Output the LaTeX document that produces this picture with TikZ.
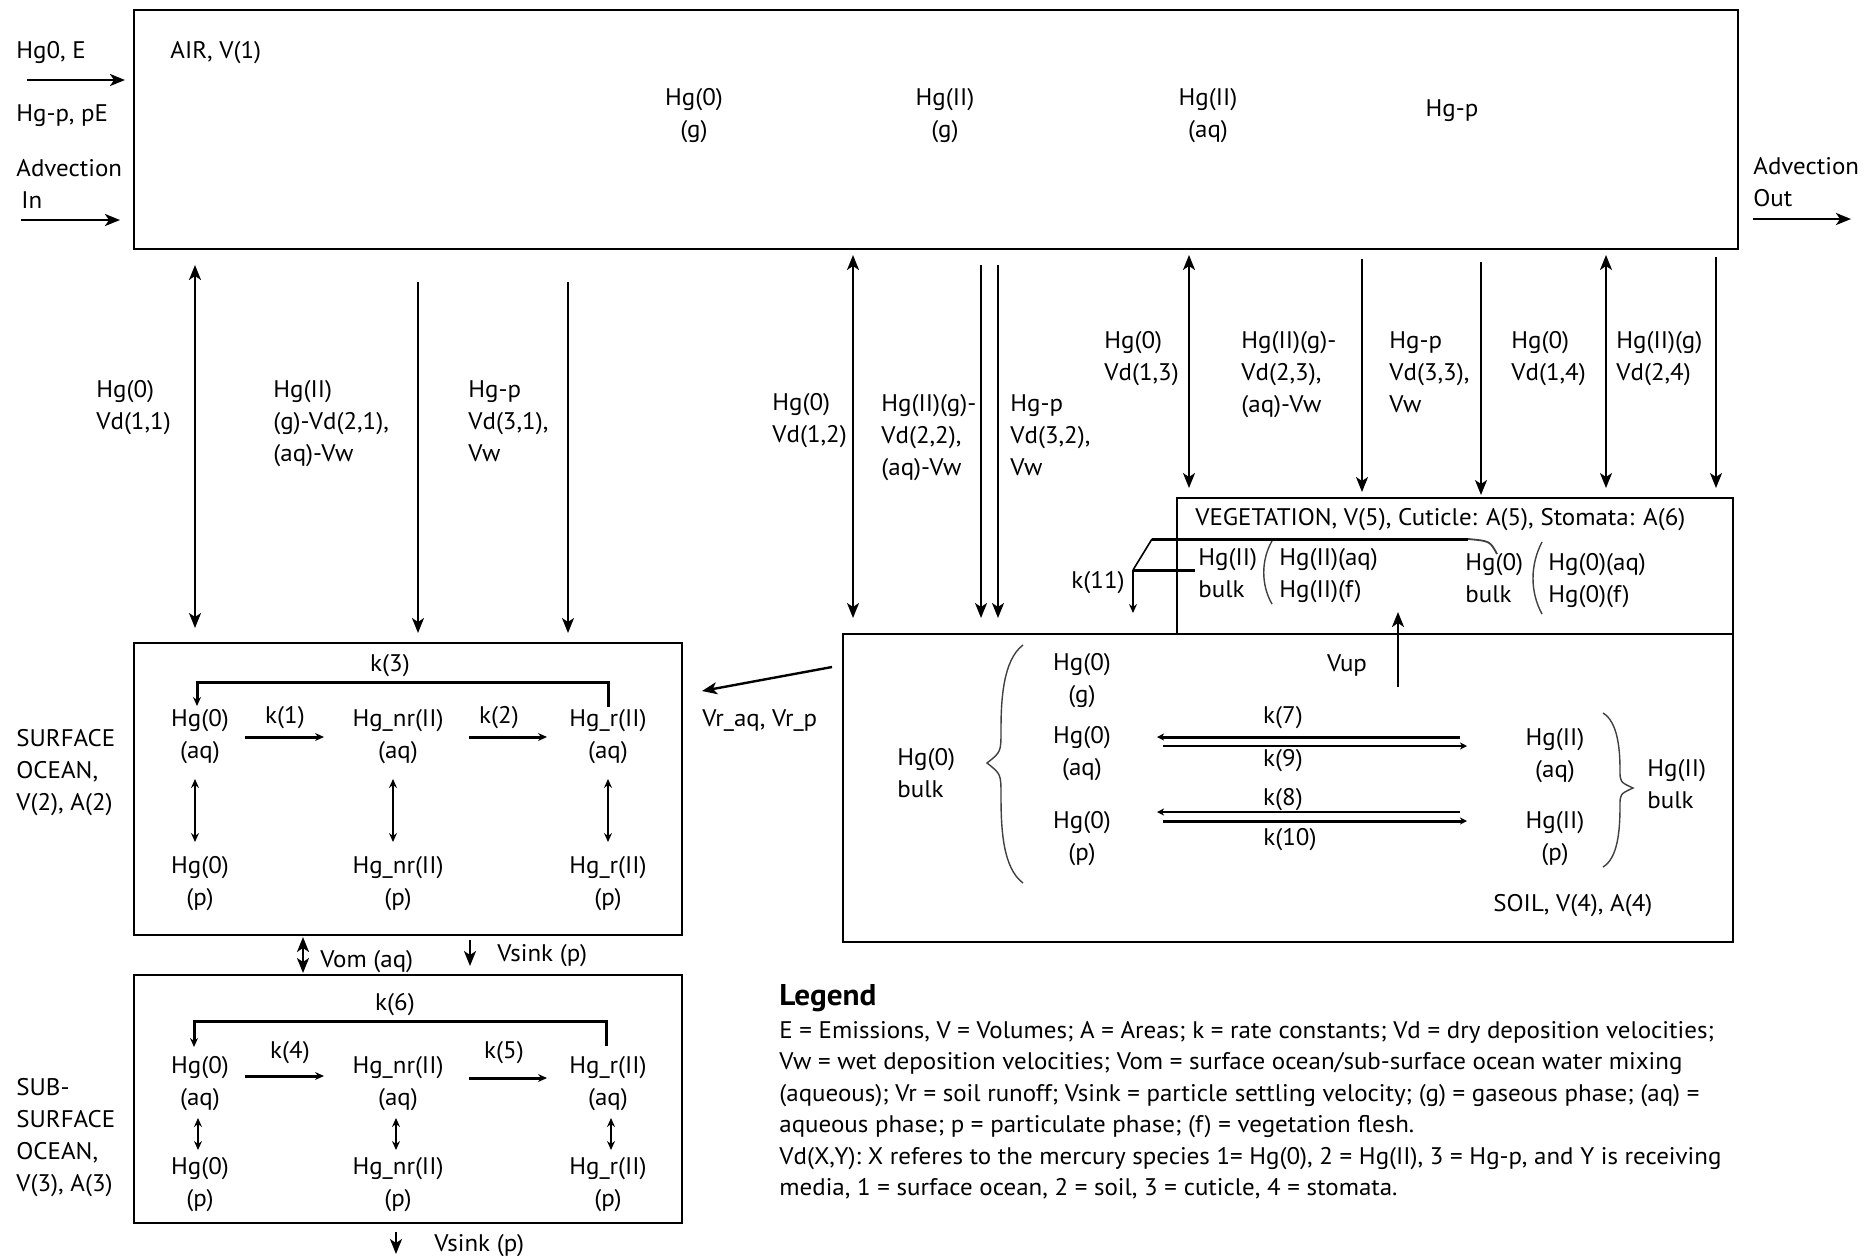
\documentclass[tikz,border=0pt]{standalone}
\usepackage{fontspec}
\setmainfont{PT Sans}[FakeStretch=1.04]
\usetikzlibrary{arrows.meta,fit}
\newcommand\lf{\fontsize{12}{16}\selectfont}
\tikzset{
  box/.style={draw, line width=1.4pt, inner sep=0pt},
  lbl/.style={inner sep=0pt, font=\lf, align=left, anchor=north west, execute at begin node=\strut},
  ctr/.style={inner sep=0pt, font=\lf, align=center, anchor=north, execute at begin node=\strut},
  rlbl/.style={inner sep=0pt, font=\lf, align=right, anchor=north east, execute at begin node=\strut},
  bighead/.tip={Stealth[length=7.5pt,width=6pt,inset=2pt]},
  smallhead/.tip={Stealth[length=4.5pt,width=4pt,inset=1.5pt]},
  flux/.style={line width=1pt, -bighead},
  dflux/.style={line width=1pt, bighead-bighead},
  karrow/.style={line width=1.5pt, -smallhead},
  dsmall/.style={line width=0.8pt, smallhead-smallhead},
  sarrowthick/.style={line width=1.5pt, -{Stealth[length=3.5pt,width=3.5pt,inset=1pt]}},
  sarrowthin/.style={line width=0.9pt, -{Stealth[length=3.5pt,width=3.5pt,inset=1pt]}},
  brace/.style={line width=0.7pt, draw=black!75},
}
\begin{document}
\begin{tikzpicture}[x=0.5pt,y=-0.5pt]
\useasboundingbox (0,0) rectangle (1875,1255);
\fill[white] (0,0) rectangle (1875,1255);

% ---------- boxes
\node[box, fit={(134,10) (1738,249)}] (air) {};
\node[box, fit={(1177,498) (1733,634)}] (veg) {};
\node[box, fit={(843,634) (1733,942)}] (soil) {};
\node[box, fit={(134,643) (682,935)}] (socean) {};
\node[box, fit={(134,975) (682,1223)}] (ssocean) {};

% ---------- left of air
\node[lbl] (thg0e) at (16,36) {Hg0, E};
\node[lbl] (thgpe) at (16,99) {Hg-p, pE};
\node[lbl] (tadvin) at (16,159) {Advection\\\hspace*{2.5pt}In};
\coordinate (e1s) at (27,80); \coordinate (e1e) at (125,80);
\draw[line width=1.2pt, -bighead] (e1s) -- (e1e);
\coordinate (ai1s) at (21,220); \coordinate (ai1e) at (120,220);
\draw[line width=1.2pt, -bighead] (ai1s) -- (ai1e);

% ---------- inside air
\node[lbl] (tair) at (170,36) {AIR, V(1)};
\node[ctr] (ag0) at (694,88) {Hg(0)\\(g)};
\node[ctr] (ag2) at (945,88) {Hg(II)\\(g)};
\node[ctr] (aq2) at (1208,88) {Hg(II)\\(aq)};
\node[ctr] (agp) at (1452,94) {Hg-p};

% ---------- right of air
\node[lbl] (tadvout) at (1753,157) {Advection\\Out};
\coordinate (ao1s) at (1753,219); \coordinate (ao1e) at (1851,219);
\draw[line width=1.2pt, -bighead] (ao1s) -- (ao1e);

% ---------- deposition arrows
\coordinate (f1t) at (195,265); \coordinate (f1b) at (195,628);
\draw[dflux] (f1t) -- (f1b);
\coordinate (f2t) at (418,282); \coordinate (f2b) at (418,633);
\draw[flux] (f2t) -- (f2b);
\coordinate (f3t) at (568,282); \coordinate (f3b) at (568,633);
\draw[flux] (f3t) -- (f3b);
\coordinate (f4t) at (853,255); \coordinate (f4b) at (853,618);
\draw[dflux] (f4t) -- (f4b);
\coordinate (f5t) at (981,265); \coordinate (f5b) at (981,618);
\draw[flux] (f5t) -- (f5b);
\coordinate (f6t) at (998,265); \coordinate (f6b) at (998,618);
\draw[flux] (f6t) -- (f6b);
\coordinate (f7t) at (1189,255); \coordinate (f7b) at (1189,488);
\draw[dflux] (f7t) -- (f7b);
\coordinate (f8t) at (1362,259); \coordinate (f8b) at (1362,492);
\draw[flux] (f8t) -- (f8b);
\coordinate (f9t) at (1481,262); \coordinate (f9b) at (1481,495);
\draw[flux] (f9t) -- (f9b);
\coordinate (f10t) at (1606,255); \coordinate (f10b) at (1606,488);
\draw[dflux] (f10t) -- (f10b);
\coordinate (f11t) at (1716,257); \coordinate (f11b) at (1716,488);
\draw[flux] (f11t) -- (f11b);

\node[lbl] (d11) at (96,380) {Hg(0)\\Vd(1,1)};
\node[lbl] (d21) at (273,380) {Hg(II)\\(g)-Vd(2,1),\\(aq)-Vw};
\node[lbl] (d31) at (468,380) {Hg-p\\Vd(3,1),\\Vw};
\node[lbl] (d12) at (772,393) {Hg(0)\\Vd(1,2)};
\node[lbl] (d22) at (881,394) {Hg(II)(g)-\\Vd(2,2),\\(aq)-Vw};
\node[lbl] (d32) at (1010,394) {Hg-p\\Vd(3,2),\\Vw};
\node[lbl] (d13) at (1104,331) {Hg(0)\\Vd(1,3)};
\node[lbl] (d23) at (1241,331) {Hg(II)(g)-\\Vd(2,3),\\(aq)-Vw};
\node[lbl] (d33) at (1389,331) {Hg-p\\Vd(3,3),\\Vw};
\node[lbl] (d14) at (1511,331) {Hg(0)\\Vd(1,4)};
\node[lbl] (d24) at (1616,331) {Hg(II)(g)\\Vd(2,4)};

% ---------- vegetation
\node[lbl] (tveg) at (1195,503) {VEGETATION, V(5), Cuticle: A(5), Stomata: A(6)};
\node[rlbl] (k11) at (1125,566) {k(11)};
\node[lbl] (vb2) at (1198,548) {Hg(II)\\bulk};
\node[lbl] (vs2) at (1279,548) {Hg(II)(aq)\\Hg(II)(f)};
\node[lbl] (vb0) at (1465,553) {Hg(0)\\bulk};
\node[lbl] (vs0) at (1548,553) {Hg(0)(aq)\\Hg(0)(f)};
\draw[brace] (1272,541) .. controls (1261,560) and (1261,585) .. (1272,604);
\draw[brace] (1542,542) .. controls (1530,565) and (1530,592) .. (1542,614);
\coordinate (k11j) at (1133,570);
\coordinate (k11a) at (1152,539);
\coordinate (k11b) at (1468,539);
\coordinate (k11c) at (1497,554);
\coordinate (k11d) at (1195,570);
\coordinate (k11e) at (1133,613);
\draw[brace, line width=0.9pt] (k11c) .. controls (1490,541) .. (k11b);
\draw[line width=1.5pt] (k11b) -- (k11a);
\draw[line width=0.8pt] (k11a) -- (k11j);
\draw[line width=1.5pt] (k11d) -- (k11j);
\draw[line width=1.2pt, -smallhead] (k11j) -- (k11e);

% ---------- soil
\coordinate (vups) at (1398,687); \coordinate (vupe) at (1398,612);
\draw[line width=1.2pt, -bighead] (vups) -- (vupe);
\node[ctr] (tvup) at (1347,649) {Vup};
\node[lbl] (sb0) at (897,748) {Hg(0)\\bulk};
\node[ctr] (sg0) at (1082,653) {Hg(0)\\(g)};
\node[ctr] (sa0) at (1082,726) {Hg(0)\\(aq)};
\node[ctr] (sp0) at (1082,811) {Hg(0)\\(p)};
\node[ctr] (sa2) at (1555,728) {Hg(II)\\(aq)};
\node[ctr] (sp2) at (1555,811) {Hg(II)\\(p)};
\node[lbl] (sb2) at (1647,759) {Hg(II)\\bulk};
\node[ctr] (k7) at (1283,701) {k(7)};
\node[ctr] (k9) at (1283,744) {k(9)};
\node[ctr] (k8) at (1283,783) {k(8)};
\node[ctr] (k10) at (1290,823) {k(10)};
\node[lbl] (tsoil) at (1493,889) {SOIL, V(4), A(4)};
\coordinate (p1a) at (1460,737); \coordinate (p1b) at (1157,737);
\draw[sarrowthick] (p1a) -- (p1b);
\coordinate (p2a) at (1163,746); \coordinate (p2b) at (1467,746);
\draw[sarrowthin] (p2a) -- (p2b);
\coordinate (p3a) at (1460,812); \coordinate (p3b) at (1157,812);
\draw[sarrowthin] (p3a) -- (p3b);
\coordinate (p4a) at (1163,821); \coordinate (p4b) at (1467,821);
\draw[sarrowthick] (p4a) -- (p4b);
\draw[brace] (1023,645) .. controls (1003,660) and (1001,700) .. (1001,730)
  .. controls (1001,752) .. (987,763) .. controls (1001,774) .. (1001,796)
  .. controls (1001,830) and (1003,868) .. (1023,883);
\draw[brace] (1603,713) .. controls (1618,722) and (1620,750) .. (1620,770)
  .. controls (1620,782) .. (1633,788) .. controls (1620,794) .. (1620,806)
  .. controls (1620,830) and (1618,858) .. (1603,867);

% ---------- runoff
\coordinate (ros) at (832,667); \coordinate (roe) at (702,691);
\draw[line width=1.2pt, -bighead] (ros) -- (roe);
\node[lbl] (tro) at (702,704) {Vr\_aq, Vr\_p};

% ---------- surface ocean
\node[lbl] (tso) at (16,729) {SURFACE\\OCEAN,\\V(2), A(2)};
\node[ctr] (k3) at (390,649) {k(3)};
\node[ctr] (so1) at (200,709) {Hg(0)\\(aq)};
\node[ctr] (so2) at (398,709) {Hg\_nr(II)\\(aq)};
\node[ctr] (so3) at (608,709) {Hg\_r(II)\\(aq)};
\node[ctr] (k1) at (285,701) {k(1)};
\node[ctr] (k2) at (499,701) {k(2)};
\node[ctr] (sp1) at (200,856) {Hg(0)\\(p)};
\node[ctr] (spp2) at (398,856) {Hg\_nr(II)\\(p)};
\node[ctr] (sp3) at (608,856) {Hg\_r(II)\\(p)};
\coordinate (k1s) at (245,737); \coordinate (k1e) at (324,737);
\draw[karrow] (k1s) -- (k1e);
\coordinate (k2s) at (469,737); \coordinate (k2e) at (547,737);
\draw[karrow] (k2s) -- (k2e);
\coordinate (k3a) at (608,707); \coordinate (k3b) at (608,682);
\coordinate (k3c) at (197,682); \coordinate (k3d) at (197,706);
\draw[karrow] (k3a) -- (k3b) -- (k3c) -- (k3d);
\foreach \x/\n in {195/a,393/b,608/c}{
  \coordinate (v\n t) at (\x,779); \coordinate (v\n b) at (\x,842);
  \draw[dsmall] (v\n t) -- (v\n b);
}

% ---------- between oceans
\coordinate (vomt) at (303,937); \coordinate (vomb) at (303,973);
\draw[line width=1pt, bighead-bighead] (vomt) -- (vomb);
\node[lbl] (tvom) at (320,945) {Vom (aq)};
\coordinate (vs1t) at (470,940); \coordinate (vs1b) at (470,966);
\draw[line width=1pt, -bighead] (vs1t) -- (vs1b);
\node[lbl] (tvs1) at (497,939) {Vsink (p)};

% ---------- sub-surface ocean
\node[lbl] (tsso) at (16,1078) {SUB-\\SURFACE\\OCEAN,\\V(3), A(3)};
\node[ctr] (k6) at (395,988) {k(6)};
\node[ctr] (ss1) at (200,1056) {Hg(0)\\(aq)};
\node[ctr] (ss2) at (398,1056) {Hg\_nr(II)\\(aq)};
\node[ctr] (ss3) at (608,1056) {Hg\_r(II)\\(aq)};
\node[ctr] (k4) at (290,1036) {k(4)};
\node[ctr] (k5) at (504,1036) {k(5)};
\node[ctr] (sq1) at (200,1157) {Hg(0)\\(p)};
\node[ctr] (sq2) at (398,1157) {Hg\_nr(II)\\(p)};
\node[ctr] (sq3) at (608,1157) {Hg\_r(II)\\(p)};
\coordinate (k4s) at (245,1076); \coordinate (k4e) at (324,1076);
\draw[karrow] (k4s) -- (k4e);
\coordinate (k5s) at (469,1078); \coordinate (k5e) at (547,1078);
\draw[karrow] (k5s) -- (k5e);
\coordinate (k6a) at (606,1046); \coordinate (k6b) at (606,1021);
\coordinate (k6c) at (194,1021); \coordinate (k6d) at (194,1047);
\draw[karrow] (k6a) -- (k6b) -- (k6c) -- (k6d);
\foreach \x/\n in {198/a,396/b,611/c}{
  \coordinate (w\n t) at (\x,1118); \coordinate (w\n b) at (\x,1150);
  \draw[dsmall] (w\n t) -- (w\n b);
}
\coordinate (vs2t) at (396,1232); \coordinate (vs2b) at (396,1254);
\draw[line width=1pt, -bighead] (vs2t) -- (vs2b);
\node[lbl] (tvs2) at (434,1229) {Vsink (p)};

% ---------- legend
\node[lbl, font=\fontsize{15}{16}\selectfont\bfseries] (leg) at (779,983) {Legend};
\node[lbl] (l1) at (779,1016) {E = Emissions, V = Volumes; A = Areas; k = rate constants; Vd = dry deposition velocities;};
\node[lbl] (l2) at (779,1047) {Vw = wet deposition velocities; Vom = surface ocean/sub-surface ocean water mixing};
\node[lbl] (l3) at (779,1079) {(aqueous); Vr = soil runoff; Vsink = particle settling velocity; (g) = gaseous phase; (aq) =};
\node[lbl] (l4) at (779,1110) {aqueous phase; p = particulate phase; (f) = vegetation flesh.};
\node[lbl] (l5) at (779,1142) {Vd(X,Y): X referes to the mercury species 1= Hg(0), 2 = Hg(II), 3 = Hg-p, and Y is receiving};
\node[lbl] (l6) at (779,1173) {media, 1 = surface ocean, 2 = soil, 3 = cuticle, 4 = stomata.};
\end{tikzpicture}
\end{document}
